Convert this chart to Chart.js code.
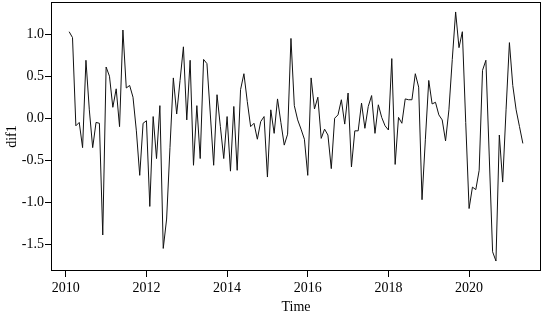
<!DOCTYPE html>
<html><head><meta charset="utf-8">
<script src="https://cdn.jsdelivr.net/npm/chart.js@4"></script>
<style>html,body{margin:0;padding:0;background:#fff;}canvas{display:block;}</style>
</head><body>
<canvas id="c" width="543" height="316"></canvas>
<script>
// time-series metadata (R ts: start = c(2010, 2), frequency = 12)
const startYear = 2010;
const startMonth = 2;
const frequency = 12;

// dif1 values
const dif1 = [
  1.03, 0.96, -0.09, -0.05, -0.35, 0.69, 0.10, -0.35, -0.05, -0.06, -1.39,
  0.61, 0.50, 0.13, 0.35, -0.10, 1.05, 0.36, 0.39, 0.25, -0.15, -0.68, -0.06,
  -0.03, -1.05, 0.02, -0.48, 0.15, -1.55, -1.20, -0.35, 0.48, 0.05, 0.45, 0.85,
  -0.02, 0.69, -0.56, 0.15, -0.48, 0.70, 0.65, 0.05, -0.56, 0.28, -0.10, -0.48,
  0.02, -0.63, 0.14, -0.62, 0.34, 0.53, 0.20, -0.10, -0.06, -0.25, -0.04, 0.02,
  -0.70, 0.10, -0.18, 0.23, -0.05, -0.32, -0.19, 0.95, 0.15, -0.02, -0.13, -0.25,
  -0.68, 0.48, 0.11, 0.25, -0.24, -0.13, -0.20, -0.60, 0.00, 0.04, 0.22, -0.07,
  0.30, -0.58, -0.15, -0.15, 0.18, -0.12, 0.14, 0.27, -0.18, 0.16, 0.01, -0.09,
  -0.14, 0.71, -0.55, 0.01, -0.06, 0.23, 0.22, 0.22, 0.53, 0.37, -0.97, -0.25,
  0.45, 0.17, 0.19, 0.04, -0.02, -0.27, 0.10, 0.70, 1.265, 0.84, 1.03, -0.05,
  -1.075, -0.82, -0.85, -0.62, 0.57, 0.69, -0.45, -1.59, -1.70, -0.20, -0.76,
  0.10, 0.90, 0.39, 0.10, -0.10, -0.30
];

const xTicks = [2010, 2012, 2014, 2016, 2018, 2020];
const yTicks = [-1.5, -1.0, -0.5, 0.0, 0.5, 1.0];
const yTickLabels = ['-1.5', '-1.0', '-0.5', '0.0', '0.5', '1.0'];
const xTitle = 'Time';
const yTitle = 'dif1';

const times = dif1.map((_, i) => startYear + (startMonth - 1 + i) / frequency);
const points = dif1.map((v, i) => ({ x: times[i], y: v }));

// R-style 4% axis extension
function ext(arr) {
  const lo = Math.min(...arr), hi = Math.max(...arr), d = hi - lo;
  return [lo - 0.04 * d, hi + 0.04 * d];
}
const [xMin, xMax] = ext(times);
const [yMin, yMax] = ext(dif1);

const FONT = { family: '"Liberation Serif", "Times New Roman", serif', size: 14 };

const boxPlugin = {
  id: 'box',
  afterDraw(chart) {
    const { ctx, chartArea: a } = chart;
    ctx.save();
    ctx.strokeStyle = '#000';
    ctx.lineWidth = 1;
    ctx.strokeRect(Math.round(a.left) + 0.5, Math.round(a.top) + 0.5,
      Math.round(a.right - a.left) - 1, Math.round(a.bottom - a.top) - 1);
    ctx.restore();
  }
};

new Chart(document.getElementById('c'), {
  type: 'line',
  data: {
    datasets: [{
      data: points,
      borderColor: '#111',
      borderWidth: 1,
      pointRadius: 0,
      tension: 0,
      fill: false
    }]
  },
  options: {
    responsive: false,
    animation: false,
    devicePixelRatio: 1,
    layout: { padding: { left: 0, right: 2, top: 2, bottom: 0 } },
    plugins: { legend: { display: false }, tooltip: { enabled: false } },
    scales: {
      x: {
        type: 'linear',
        min: xMin,
        max: xMax,
        afterBuildTicks(scale) { scale.ticks = xTicks.map(v => ({ value: v })); },
        afterFit(scale) { scale.height = 45; scale.paddingLeft = 0; scale.paddingRight = 0; },
        border: { display: false },
        grid: { drawOnChartArea: false, drawTicks: true, tickLength: 6, color: '#000', lineWidth: 1 },
        ticks: { color: '#000', font: FONT, padding: 3, maxRotation: 0, autoSkip: false,
          callback: v => String(v) },
        title: { display: true, text: xTitle, color: '#000', font: FONT, padding: { top: 0, bottom: 0 } }
      },
      y: {
        type: 'linear',
        min: yMin,
        max: yMax,
        afterBuildTicks(scale) { scale.ticks = yTicks.map(v => ({ value: v })); },
        afterFit(scale) { scale.width = 51; scale.paddingTop = 0; scale.paddingBottom = 0; },
        border: { display: false },
        grid: { drawOnChartArea: false, drawTicks: true, tickLength: 6, color: '#000', lineWidth: 1 },
        ticks: { color: '#000', font: FONT, padding: 1, autoSkip: false,
          callback: (v) => { const k = yTicks.indexOf(v); return k >= 0 ? yTickLabels[k] : ''; } },
        title: { display: true, text: yTitle, color: '#000', font: FONT, padding: { top: 4, bottom: 0 } }
      }
    }
  },
  plugins: [boxPlugin]
});
</script>
</body></html>
